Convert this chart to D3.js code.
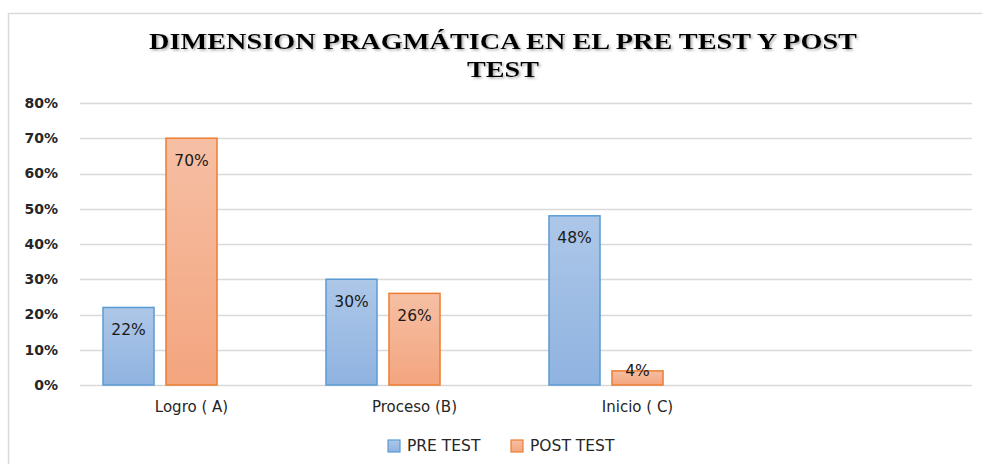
<!DOCTYPE html>
<html>
<head>
<meta charset="utf-8">
<script src="https://cdn.jsdelivr.net/npm/d3@7"></script>
<style>
  body { margin: 0; background: #fff; }
  svg { display: block; }
</style>
</head>
<body>
<div id="vis"></div>
<script>
const categories = ["Logro ( A)", "Proceso (B)", "Inicio ( C)", ""];
const seriesNames = ["PRE TEST", "POST TEST"];
const preTest = [0.22, 0.30, 0.48];
const postTest = [0.70, 0.26, 0.04];
const yTicks = [0, 0.1, 0.2, 0.3, 0.4, 0.5, 0.6, 0.7, 0.8];

const WIDTH = 982, HEIGHT = 464;
const MARG = {left: 80, right: 10, top: 103, bottom: 79};
const FONT = "DejaVu Sans, sans-serif";

const svg = d3.select("#vis").append("svg")
    .attr("width", WIDTH)
    .attr("height", HEIGHT);

const defs = svg.append("defs");
const grads = [
  {id: "gPre", top: "#adc7e8", bot: "#8fb3e0"},
  {id: "gPost", top: "#f6bfa4", bot: "#f3a57e"}
];
grads.forEach(g => {
  const lg = defs.append("linearGradient").attr("id", g.id)
      .attr("x1", 0).attr("y1", 0).attr("x2", 0).attr("y2", 1);
  lg.append("stop").attr("offset", "0%").attr("stop-color", g.top);
  lg.append("stop").attr("offset", "100%").attr("stop-color", g.bot);
});
const shadow = defs.append("filter").attr("id", "tshadow");
shadow.append("feDropShadow").attr("dx", 1.5).attr("dy", 1.5)
    .attr("stdDeviation", 0.8).attr("flood-color", "#888").attr("flood-opacity", 0.7);

const fills = ["url(#gPre)", "url(#gPost)"];
const strokes = ["#5b9bd5", "#ed7d31"];

// chart border
svg.append("rect")
    .attr("x", 8.5).attr("y", 13.5)
    .attr("width", WIDTH + 20).attr("height", HEIGHT + 20)
    .attr("fill", "none").attr("stroke", "#d9d9d9").attr("stroke-width", 1.5);

// title (two separate lines)
const titleLines = [
  {text: "DIMENSION PRAGMÁTICA EN EL PRE TEST Y POST", y: 49, len: 708},
  {text: "TEST", y: 77, len: 72}
];
titleLines.forEach(t => {
  svg.append("text")
      .attr("x", 503).attr("y", t.y)
      .attr("text-anchor", "middle")
      .attr("font-family", "Liberation Serif, serif")
      .attr("font-weight", "bold")
      .attr("font-size", 24)
      .attr("fill", "#000")
      .attr("filter", "url(#tshadow)")
      .attr("textLength", t.len).attr("lengthAdjust", "spacingAndGlyphs")
      .text(t.text);
});

const x0 = d3.scaleBand()
    .domain(categories)
    .range([MARG.left, WIDTH - MARG.right]);

// three slots per category, the third one left empty as in the original
const x1 = d3.scaleBand()
    .domain([0, 1, 2])
    .range([0, x0.bandwidth()])
    .paddingInner(0.19)
    .paddingOuter(0.365);

const y = d3.scaleLinear()
    .domain([0, 0.8])
    .range([HEIGHT - MARG.bottom, MARG.top]);

// grid
svg.append("g")
    .selectAll("line")
    .data(yTicks)
    .enter()
    .append("line")
        .attr("x1", MARG.left)
        .attr("x2", WIDTH - MARG.right)
        .attr("y1", d => Math.round(y(d)) + 0.5)
        .attr("y2", d => Math.round(y(d)) + 0.5)
        .attr("stroke", "#d9d9d9")
        .attr("stroke-width", 1.3);

// y axis labels
const yAxis = svg.append("g")
    .attr("transform", "translate(" + (MARG.left - 19) + ",0)")
    .call(d3.axisLeft(y).tickValues(yTicks).tickFormat(d3.format(".0%")).tickSize(0));
yAxis.select(".domain").remove();
yAxis.selectAll("text")
    .attr("font-family", FONT)
    .attr("font-weight", "bold")
    .attr("font-size", 14)
    .attr("fill", "#262626");

// x axis labels
const xAxis = svg.append("g")
    .attr("transform", "translate(0," + (HEIGHT - MARG.bottom) + ")")
    .call(d3.axisBottom(x0).tickSize(0).tickPadding(16));
xAxis.select(".domain").remove();
xAxis.selectAll("text")
    .attr("font-family", FONT)
    .attr("font-size", 15)
    .attr("fill", "#262626");

const allSeries = [preTest, postTest];
allSeries.forEach((vals, s) => {
  const g = svg.append("g");
  g.selectAll("rect")
      .data(vals)
      .enter()
      .append("rect")
          .attr("x", (d, i) => x0(categories[i]) + x1(s))
          .attr("y", d => y(d))
          .attr("width", x1.bandwidth())
          .attr("height", d => y(0) - y(d))
          .attr("fill", fills[s])
          .attr("stroke", strokes[s])
          .attr("stroke-width", 1.5);
  g.selectAll("text")
      .data(vals)
      .enter()
      .append("text")
          .attr("x", (d, i) => x0(categories[i]) + x1(s) + x1.bandwidth() / 2)
          .attr("y", d => (y(0) - y(d) > 30 ? y(d) + 22 : y(d)))
          .attr("dy", "0.35em")
          .attr("text-anchor", "middle")
          .attr("font-family", FONT)
          .attr("font-size", 15.5)
          .attr("fill", "#1a1a1a")
          .text(d => d3.format(".0%")(d));
});

// legend
const legend = svg.append("g");
const legX = [388, 511];
seriesNames.forEach((name, s) => {
  legend.append("rect")
      .attr("x", legX[s]).attr("y", 440)
      .attr("width", 12).attr("height", 12)
      .attr("fill", fills[s]).attr("stroke", strokes[s]).attr("stroke-width", 1.2);
  legend.append("text")
      .attr("x", legX[s] + 19).attr("y", 446)
      .attr("dy", "0.35em")
      .attr("font-family", FONT)
      .attr("font-size", 15.5)
      .attr("fill", "#262626")
      .text(name);
});
</script>
</body>
</html>
